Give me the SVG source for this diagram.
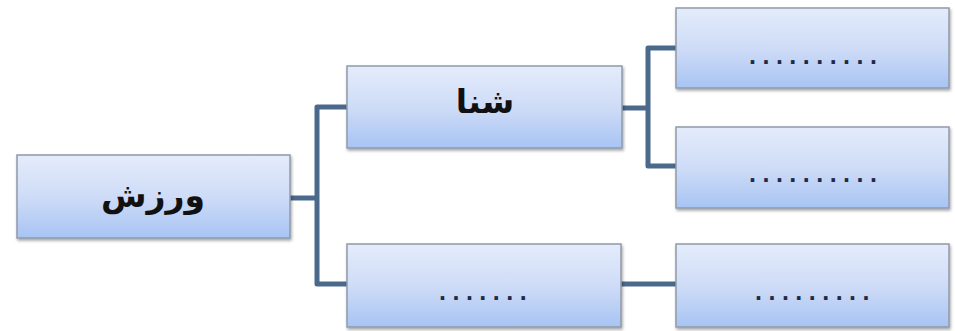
<svg xmlns="http://www.w3.org/2000/svg" width="955" height="331" viewBox="0 0 955 331">
<defs>
<linearGradient id="g" x1="0" y1="0" x2="0" y2="1">
<stop offset="0" stop-color="#e4ecfb"/>
<stop offset="0.5" stop-color="#cfdcf7"/>
<stop offset="1" stop-color="#a7c4f3"/>
</linearGradient>
<filter id="sh" x="-10%" y="-10%" width="120%" height="130%">
<feDropShadow dx="1" dy="2" stdDeviation="1.5" flood-color="#000" flood-opacity="0.35"/>
</filter>
</defs>
<style>
.box{fill:url(#g);stroke:#8f9aab;stroke-width:1.5;filter:url(#sh)}
.lbl{font-family:"DejaVu Sans","Noto Sans",sans-serif;font-weight:bold;font-size:33px;fill:#111;text-anchor:middle}
.dots{font-family:"Liberation Sans",sans-serif;font-weight:bold;font-size:25px;fill:#1f2a44;letter-spacing:6.5px}
.conn{fill:none;stroke:#4b6a8b;stroke-width:5;stroke-linejoin:round}
</style>
<rect width="955" height="331" fill="#fff"/>
<g id="connectors">
<path class="conn" d="M290,198 H317"/>
<path class="conn" d="M347,107 H317 V284 H347"/>
<path class="conn" d="M622,108 H648"/>
<path class="conn" d="M676,48 H648 V166 H676"/>
<path class="conn" d="M621,284 H676"/>
</g>
<g id="root">
<rect class="box" x="17" y="155" width="273" height="83"/>
<text class="lbl" x="153" y="207" direction="rtl">ورزش</text>
</g>
<g id="swim">
<rect class="box" x="347" y="66" width="275" height="82"/>
<text class="lbl" x="485" y="113" direction="rtl">شنا</text>
</g>
<g id="tr1">
<rect class="box" x="676" y="8" width="273" height="80"/>
<text class="dots" x="749" y="64">..........</text>
</g>
<g id="tr2">
<rect class="box" x="676" y="127" width="273" height="81"/>
<text class="dots" x="749" y="182">..........</text>
</g>
<g id="bl">
<rect class="box" x="347" y="244" width="274" height="83"/>
<text class="dots" x="439" y="300">.......</text>
</g>
<g id="br">
<rect class="box" x="676" y="244" width="273" height="83"/>
<text class="dots" x="755" y="300">.........</text>
</g>
</svg>
